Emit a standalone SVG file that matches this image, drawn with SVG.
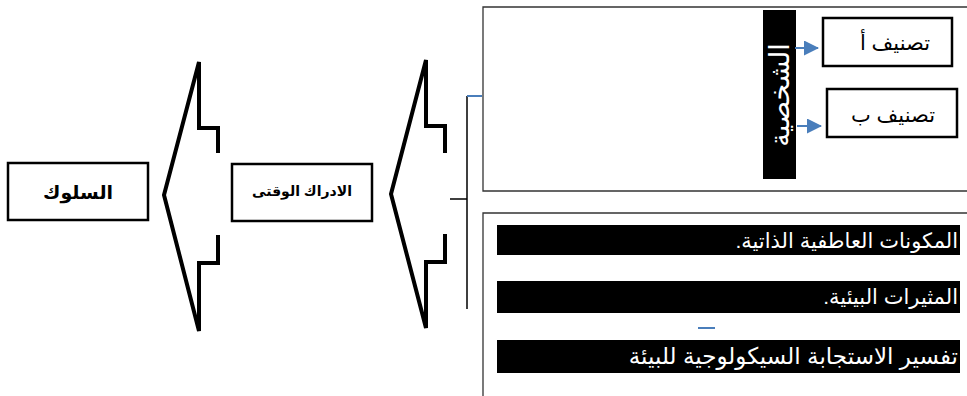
<svg xmlns="http://www.w3.org/2000/svg" width="967" height="396" viewBox="0 0 967 396">
<defs>
<style>
.t{font-family:"Liberation Sans","DejaVu Sans",sans-serif;}
.box{fill:#fff;stroke:#000;stroke-width:2.5;}
.frame{fill:none;stroke:#333;stroke-width:1.3;}
.big{fill:none;stroke:#000;stroke-width:4;stroke-linejoin:miter;}
.bar{fill:#000;}
.wt{fill:#fff;font-size:21px;}
.blue{stroke:#4a7ebb;stroke-width:2;fill:none;}
</style>
<marker id="ah2" markerWidth="15" markerHeight="15" refX="14" refY="7.5" orient="auto" markerUnits="userSpaceOnUse" viewBox="0 0 15 15">
<path d="M0,0 L15,7.5 L0,15 Z" fill="#4a7ebb"/>
</marker>
</defs>
<rect width="967" height="396" fill="#fff"/>

<g id="node-behavior">
<rect class="box" x="8" y="163" width="140" height="57"/>
<text class="t" x="78" y="199" font-size="19" font-weight="bold" text-anchor="middle" direction="rtl">السلوك</text>
</g>

<g id="node-perception">
<rect class="box" x="232" y="164" width="140" height="57"/>
<text class="t" x="302" y="196" font-size="14" font-weight="bold" text-anchor="middle" direction="rtl">الادراك الوقتى</text>
</g>

<g id="node-top-frame">
<path class="frame" d="M967,7 H483 V191 H967"/>
</g>

<g id="node-personality">
<rect class="bar" x="763" y="10" width="33" height="169"/>
<text class="t" transform="translate(789,95) rotate(-90)" x="0" y="0" font-size="27" fill="#fff" text-anchor="middle" direction="rtl">الشخصية</text>
</g>

<g id="node-class-a">
<rect class="box" x="823" y="18" width="129" height="48"/>
<text class="t" x="895" y="50" font-size="21" text-anchor="middle" direction="rtl">تصنيف أ</text>
</g>

<g id="node-class-b">
<rect class="box" x="827" y="89" width="130" height="48"/>
<text class="t" x="893" y="122" font-size="21" text-anchor="middle" direction="rtl">تصنيف ب</text>
</g>

<g id="node-bottom-frame">
<path class="frame" d="M967,213 H483 V396"/>
</g>

<g id="node-emotional">
<rect class="bar" x="497" y="225" width="463" height="30"/>
<text class="t wt" x="958" y="248" direction="rtl" text-anchor="start">المكونات العاطفية الذاتية.</text>
</g>

<g id="node-environmental">
<rect class="bar" x="497" y="281" width="463" height="32"/>
<text class="t wt" x="958" y="304" direction="rtl" text-anchor="start">المثيرات البيئية.</text>
</g>

<g id="node-interpretation">
<rect class="bar" x="497" y="340" width="463" height="33"/>
<text class="t wt" x="958" y="364" direction="rtl" text-anchor="start" style="font-size:23px">تفسير الاستجابة السيكولوجية  للبيئة</text>
</g>

<g id="connectors">
<path class="big" d="M218,153 V128 H199 V62 L164,195 L199,331 V263 H218 V235"/>
<path class="big" d="M445,153 V126 H426 V60 L391,194 L426,328 V262 H445 V234"/>
<path d="M467,96 V309 M450,199 H467" stroke="#000" stroke-width="1.5" fill="none"/>
<path class="blue" d="M467,96 H482"/>
<path class="blue" d="M698,328 H715"/>
<line class="blue" x1="795" y1="48" x2="818" y2="48" marker-end="url(#ah2)"/>
<line class="blue" x1="797" y1="126" x2="821" y2="126" marker-end="url(#ah2)"/>
</g>
</svg>
